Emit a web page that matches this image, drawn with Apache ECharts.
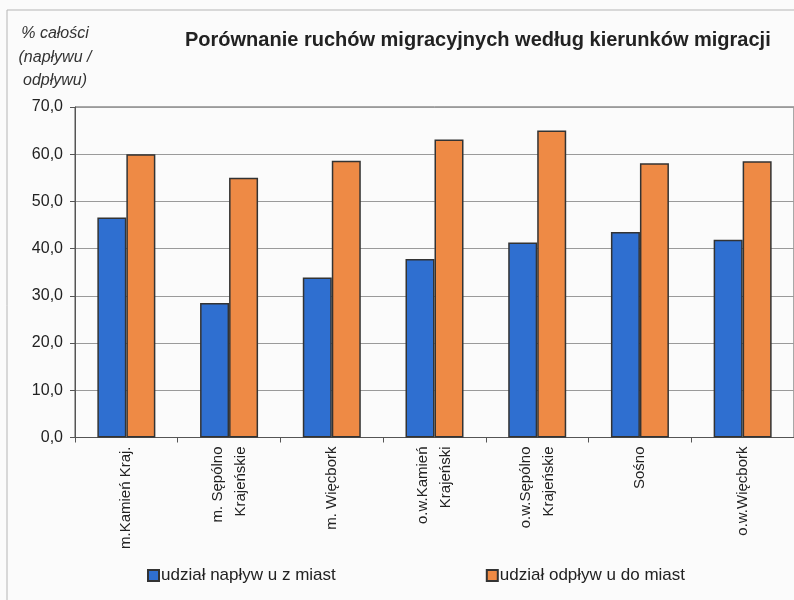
<!DOCTYPE html>
<html>
<head>
<meta charset="utf-8">
<title>Porównanie ruchów migracyjnych</title>
<script src="https://cdn.jsdelivr.net/npm/echarts@6/dist/echarts.min.js"></script>
<style>
  html, body { margin: 0; padding: 0; background: #fbfbfb; }
  #main { width: 794px; height: 600px; }
</style>
</head>
<body>
<div id="main"></div>
<script>
// dane
var categories = ['m.Kamień Kraj.', 'm. Sępólno\nKrajeńskie', 'm. Więcbork', 'o.w.Kamień\nKrajeński',
                  'o.w.Sępólno\nKrajeńskie', 'Sośno', 'o.w.Więcbork'];
var naplyw = [46.6, 28.5, 33.9, 37.8, 41.3, 43.5, 41.9];
var odplyw = [60.0, 55.0, 58.6, 63.1, 65.0, 58.1, 58.5];
var seriesNames = ['udział napływ u z miast', 'udział odpływ u do miast'];
var yTicks = { min: 0, max: 70, interval: 10 };

var myChart = echarts.init(document.getElementById('main'));
var font = '"Liberation Sans", Arial, sans-serif';

var option = {
    backgroundColor: '#fbfbfb',
    animation: false,
    color: ['#2f6fd0', '#ee8a45'],
    title: {
        text: 'Porównanie ruchów migracyjnych według kierunków migracji',
        left: 180,
        top: 25,
        textStyle: { fontFamily: font, fontSize: 20, fontWeight: 'bold', color: '#222' }
    },
    graphic: [
        {   // ramka obszaru wykresu
            type: 'rect', silent: true, z: -1,
            shape: { x: 7, y: 10, width: 800, height: 600 },
            style: { fill: 'none', stroke: '#b5b5b5', lineWidth: 1 }
        },
        {
            type: 'text', x: 55, y: 22,
            style: {
                text: '% całości\n(napływu /\nodpływu)',
                font: 'italic 16px ' + font,
                fill: '#333',
                align: 'center',
                textAlign: 'center',
                lineHeight: 23.5
            }
        }
    ],
    legend: {
        data: seriesNames,
        icon: 'rect',
        left: 142,
        top: 562,
        itemWidth: 11,
        itemHeight: 11,
        itemGap: 150,
        textStyle: { fontFamily: font, fontSize: 17, color: '#222', padding: [0, 0, 0, -3] }
    },
    grid: {
        left: 75,
        top: 107,
        width: 724,
        height: 330.5,
        show: true,
        borderColor: '#555',
        borderWidth: 1,
        backgroundColor: 'transparent'
    },
    xAxis: {
        type: 'category',
        data: categories,
        axisLine: { lineStyle: { color: '#555', width: 1 } },
        axisTick: { show: true, length: 5, lineStyle: { color: '#555' } },
        axisLabel: {
            interval: 0,
            rotate: 90,
            margin: 9,
            fontFamily: font,
            fontSize: 15,
            color: '#222',
            lineHeight: 23
        }
    },
    yAxis: {
        type: 'value',
        min: yTicks.min,
        max: yTicks.max,
        interval: yTicks.interval,
        axisLine: { show: true, lineStyle: { color: '#555', width: 1 } },
        axisTick: { show: true, length: 5, lineStyle: { color: '#555' } },
        splitLine: { lineStyle: { color: '#9a9a9a', width: 1 } },
        axisLabel: {
            margin: 12,
            fontFamily: font,
            fontSize: 16,
            color: '#222',
            formatter: function (v) { return v.toFixed(1).replace('.', ','); }
        }
    },
    series: [
        {
            name: seriesNames[0],
            type: 'bar',
            barWidth: 29,
            barGap: '0%',
            itemStyle: { borderColor: '#333', borderWidth: 1.5 },
            data: naplyw
        },
        {
            name: seriesNames[1],
            type: 'bar',
            barWidth: 29,
            barGap: '0%',
            itemStyle: { borderColor: '#333', borderWidth: 1.5 },
            data: odplyw
        }
    ]
};

myChart.setOption(option);
window.addEventListener("resize", function () {
    myChart.resize();
});
</script>
</body>
</html>
